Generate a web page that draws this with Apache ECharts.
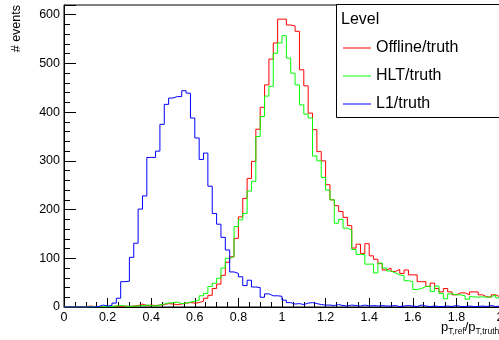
<!DOCTYPE html>
<html>
<head>
<meta charset="utf-8">
<script src="https://cdn.jsdelivr.net/npm/echarts@6/dist/echarts.min.js"></script>
<style>
html,body{margin:0;padding:0;background:#fff;}
#c{width:499px;height:340px;}
</style>
</head>
<body>
<div id="c"></div>
<script>
// Histogram binning (100 bins from 0 to 2)
const binLow = 0;
const binWidth = 0.02;

const seriesNames = ['Offline/truth', 'HLT/truth', 'L1/truth'];
const legendTitle = 'Level';
const yTitle = '# events';

const offline = [
  0,0,0,0,0,2,1,1,1,0,
  1,2,1,2,1,2,3,6,3,4,
  3,4,5,7,6,5,6,8,9,8,
  9,12,18,24,38,47,65,92,103,141,
  185,223,264,299,365,410,456,509,542,591,
  591,579,577,566,487,454,398,364,319,300,
  251,220,208,196,184,167,121,129,110,130,
  105,98,89,76,80,73,77,69,76,66,
  66,52,52,42,49,38,31,38,31,25,
  29,29,25,31,31,25,21,20,25,21
];
const hlt = [
  0,0,0,0,0,0,1,0,1,1,
  1,2,3,2,1,2,2,3,4,3,
  2,4,6,8,9,10,7,8,10,12,
  14,23,28,42,49,59,80,100,103,165,
  179,192,238,258,350,391,433,453,521,542,
  557,511,480,456,415,396,388,310,300,266,
  240,220,172,180,162,158,118,108,108,88,
  88,70,90,80,74,70,66,64,54,52,
  36,38,42,43,32,43,28,17,27,25,
  25,23,16,21,20,21,20,21,25,19
];
const l1 = [
  0,0,0,0,0,0,0,1,4,2,
  3,8,18,52,53,102,131,201,228,307,
  307,320,375,416,429,432,432,444,439,388,
  347,303,316,248,192,170,143,117,72,69,
  62,44,55,41,40,20,27,23,23,22,
  14,9,6,7,5,8,9,7,5,4,
  4,3,5,3,2,4,3,2,4,2,
  3,2,3,2,2,3,1,2,3,2,
  1,4,2,1,2,1,1,2,1,3,
  1,1,2,1,1,2,1,3,1,2
];

function toSteps(vals) {
  const pts = vals.map((v, i) => [binLow + i * binWidth, v]);
  pts.push([binLow + vals.length * binWidth, vals[vals.length - 1]]);
  return pts;
}

const FONT = '"Liberation Sans", Arial, Helvetica, sans-serif';
const chart = echarts.init(document.getElementById('c'), null, {renderer: 'canvas'});
const colors = ['#ff0000', '#00ff00', '#0000ff'];
const dataSets = [offline, hlt, l1];

chart.setOption({
  animation: false,
  backgroundColor: '#ffffff',
  grid: {
    left: 64, right: -1, top: 5, bottom: 33,
    containLabel: false, outerBoundsMode: 'none',
    show: true, borderColor: '#000', borderWidth: 1, backgroundColor: 'transparent'
  },
  xAxis: {
    type: 'value', min: 0, max: 2, interval: 0.2,
    axisLine: {show: true, onZero: false, lineStyle: {color: '#000', width: 1}},
    axisTick: {show: true, inside: true, length: 9, lineStyle: {color: '#000'}},
    minorTick: {show: true, splitNumber: 4, length: 5, lineStyle: {color: '#000'}},
    splitLine: {show: false},
    axisLabel: {color: '#000', fontFamily: FONT, fontSize: 12.5, margin: 4,
      showMaxLabel: true, hideOverlap: false, formatter: v => String(+v.toFixed(1))}
  },
  yAxis: {
    type: 'value', min: 0, max: 620, interval: 100,
    axisLine: {show: true, lineStyle: {color: '#000', width: 1}},
    axisTick: {show: true, inside: true, length: 12, lineStyle: {color: '#000'}},
    minorTick: {show: true, splitNumber: 5, length: 6, lineStyle: {color: '#000'}},
    splitLine: {show: false},
    axisLabel: {color: '#000', fontFamily: FONT, fontSize: 12.5, margin: 4, showMaxLabel: false}
  },
  legend: {
    data: seriesNames,
    orient: 'vertical',
    left: 338, top: 35,
    icon: 'rect', itemWidth: 28, itemHeight: 1, itemGap: 12,
    textStyle: {color: '#000', fontFamily: FONT, fontSize: 16, lineHeight: 16},
    z: 20
  },
  graphic: [
    {type: 'rect', z: 10, shape: {x: 336.5, y: 4.5, width: 200, height: 113},
      style: {fill: '#fff', stroke: '#000', lineWidth: 1}},
    {type: 'text', z: 11, x: 341, y: 20,
      style: {text: legendTitle, font: '16px ' + FONT, fill: '#000', verticalAlign: 'middle'}},
    {type: 'text', z: 11, x: 17, y: 5, rotation: Math.PI / 2,
      style: {text: yTitle, font: '12.5px ' + FONT, fill: '#000', textAlign: 'right', verticalAlign: 'middle'}},
    {type: 'text', z: 11, x: 441, y: 321,
      style: {
        text: '{p|p}{s|T,ref}{p|/p}{s|T,truth}',
        fill: '#000', verticalAlign: 'top',
        rich: {
          p: {fontFamily: FONT, fontSize: 13, lineHeight: 13, verticalAlign: 'top'},
          s: {fontFamily: FONT, fontSize: 8.5, lineHeight: 8.5, padding: [9, 0, 0, 0]}
        }
      }}
  ],
  series: dataSets.map((d, k) => ({
    name: seriesNames[k],
    type: 'line',
    step: 'end',
    data: toSteps(d),
    showSymbol: false,
    symbol: 'none',
    color: colors[k],
    lineStyle: {color: colors[k], width: 1},
    z: 3 + k
  }))
});
</script>
</body>
</html>
